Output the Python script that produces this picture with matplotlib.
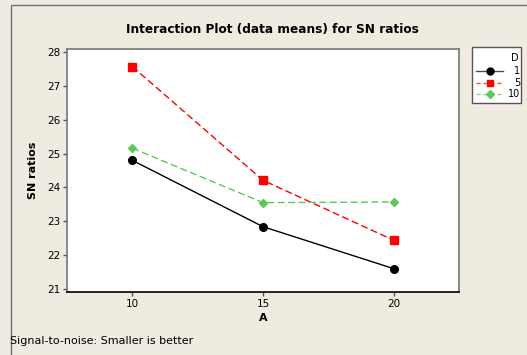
import matplotlib
matplotlib.use("Agg")
import matplotlib.pyplot as plt
from matplotlib.patches import Rectangle
from matplotlib.lines import Line2D

A_levels = [10, 15, 20]
D_labels = ["1", "5", "10"]
sn_d1 = [24.80, 22.84, 21.60]
sn_d5 = [27.57, 24.21, 22.44]
sn_d10 = [25.16, 23.55, 23.57]
y_ticks = [21, 22, 23, 24, 25, 26, 27, 28]

bg = "#EFEBE1"
fig = plt.figure(figsize=(5.27, 3.55), dpi=100, facecolor=bg)
W, H = 527, 355


def fx(px):
    return px / W


def fy(py):
    return 1 - py / H


# outer frame
fig.add_artist(Rectangle((fx(11), -0.1), 1.2, fy(5) + 0.1, transform=fig.transFigure,
                         fill=False, edgecolor="#707070", lw=1.0))

ax = fig.add_axes([fx(67), fy(292), (459 - 67) / W, (292 - 49) / H])
ax.set_facecolor("white")

styles = [
    dict(color="black", ls="-", marker="o", ms=5.5),
    dict(color="#FF0000", ls=(0, (5, 2.5)), marker="s", ms=5.5),
    dict(color="#5CC85C", ls=(0, (5, 2.5)), marker="D", ms=4.5),
]
series = [sn_d1, sn_d5, sn_d10]
for vals, st in zip(series, styles):
    ax.plot(A_levels, vals, color=st["color"], ls=st["ls"], lw=1.0,
            marker=st["marker"], ms=st["ms"], mfc=st["color"], mec=st["color"])

ax.set_xlim(7.5, 22.5)
ax.set_ylim(20.91, 28.09)
ax.set_xticks(A_levels)
ax.set_yticks(y_ticks)
ax.tick_params(direction="out", length=3, width=1, labelsize=7.5, pad=2, colors="#555555",
               labelcolor="black")
for s in ["top", "right", "left"]:
    ax.spines[s].set_color("#777777")
    ax.spines[s].set_linewidth(1.2)
ax.spines["bottom"].set_color("black")
ax.spines["bottom"].set_linewidth(1.2)

ax.set_xlabel("A", fontsize=8, fontweight="bold", labelpad=3)
ax.set_ylabel("SN ratios", fontsize=8, fontweight="bold", labelpad=6)

fig.text(fx(272), fy(30), "Interaction Plot (data means) for SN ratios",
         ha="center", va="center", fontsize=8.7, fontweight="bold")
fig.text(fx(10), fy(341), "Signal-to-noise: Smaller is better",
         ha="left", va="center", fontsize=8)

# legend (drawn manually)
fig.add_artist(Rectangle((fx(472), fy(103)), (521 - 472) / W, (103 - 47) / H,
                         transform=fig.transFigure, facecolor="white",
                         edgecolor="#555555", lw=1.0))
fig.text(fx(519), fy(58), "D", ha="right", va="center", fontsize=7)
ys = [71, 83, 94]
for lab, st, yy in zip(D_labels, styles, ys):
    fig.add_artist(Line2D([fx(476), fx(503)], [fy(yy), fy(yy)], transform=fig.transFigure,
                          color=st["color"], ls=st["ls"] if st["ls"] == "-" else (0, (3, 2)),
                          lw=1.0, alpha=0.7))
    fig.add_artist(Line2D([fx(489.5)], [fy(yy)], transform=fig.transFigure,
                          color=st["color"], marker=st["marker"], ms=st["ms"] - 0.5,
                          mfc=st["color"], mec=st["color"], ls="none"))
    fig.text(fx(520), fy(yy), lab, ha="right", va="center", fontsize=7)

fig.savefig("out.png", dpi=100, facecolor=bg)
